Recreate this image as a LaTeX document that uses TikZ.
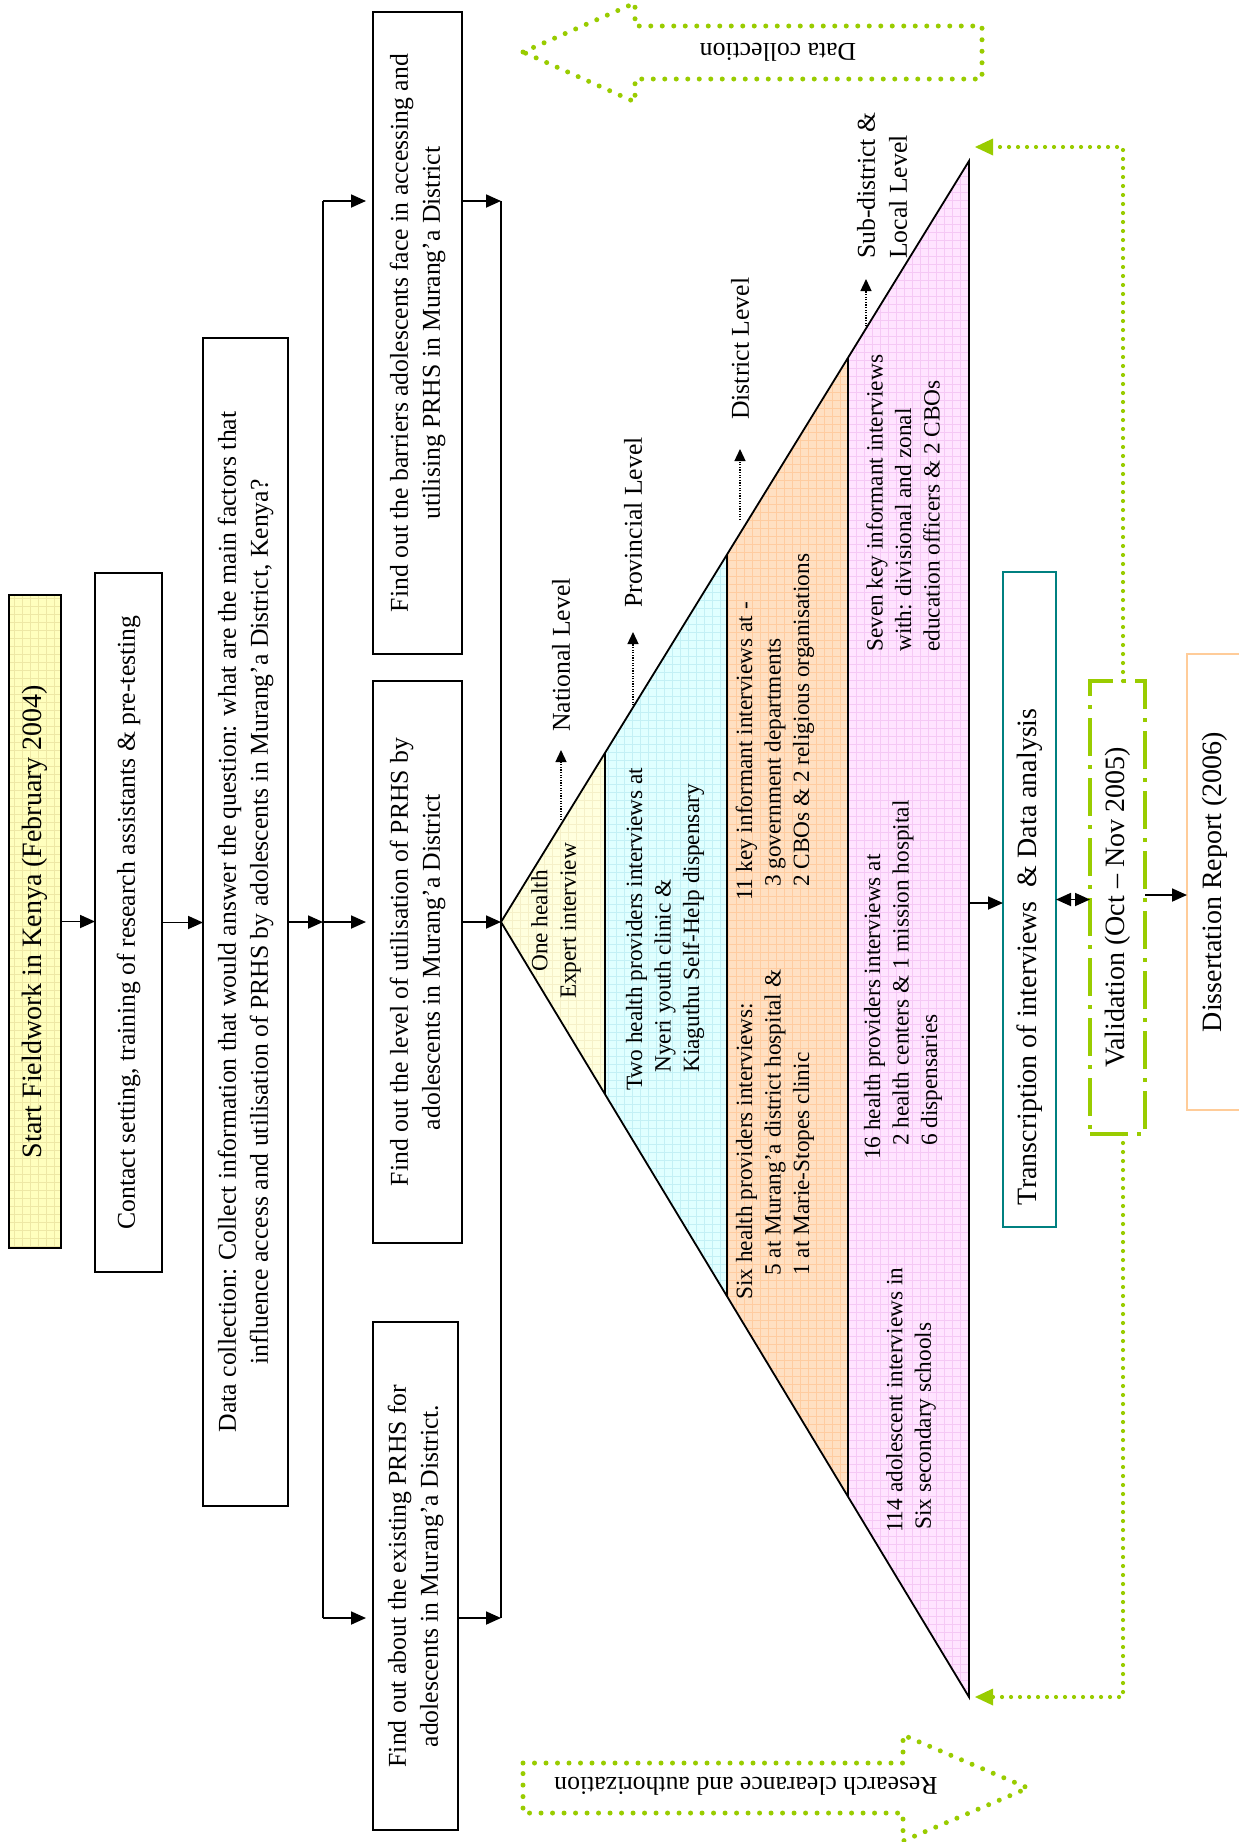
\documentclass[tikz,border=0pt]{standalone}
\usepackage{fontspec}
\setmainfont{Liberation Serif}
\usetikzlibrary{arrows.meta,calc}
\definecolor{gcol}{RGB}{153,204,0}
\definecolor{tealc}{RGB}{0,128,128}
\definecolor{peach}{RGB}{255,204,153}
\definecolor{yelbox}{RGB}{255,255,190}
\definecolor{yelgrid}{RGB}{238,232,165}
\definecolor{yelband}{RGB}{255,255,222}
\definecolor{yelbgrid}{RGB}{245,240,200}
\definecolor{cyanband}{RGB}{224,255,255}
\definecolor{cyangrid}{RGB}{195,240,245}
\definecolor{orband}{RGB}{255,224,194}
\definecolor{orgrid}{RGB}{255,204,160}
\definecolor{pkband}{RGB}{255,228,255}
\definecolor{pkgrid}{RGB}{245,200,245}
\newcommand{\fszA}{\fontsize{28}{33}\selectfont}
\newcommand{\fszB}{\fontsize{25.7}{32}\selectfont}
\newcommand{\fszC}{\fontsize{23.3}{28.5}\selectfont}
\newcommand{\rtxt}[1]{\rotatebox{90}{\begin{tabular}{@{}c@{}}#1\end{tabular}}}
\begin{document}
\begin{tikzpicture}[x=1pt,y=-1pt,
  box/.style={draw=black, line width=1.8pt, inner sep=0pt, outer sep=0pt},
  arr/.style={line width=1.8pt, -{Triangle[length=15pt,width=13pt]}},
  darr/.style={line width=1.8pt, {Triangle[length=15pt,width=13pt]}-{Triangle[length=15pt,width=13pt]}},
  bus/.style={line width=1.8pt},
  tri/.style={rotate=90, inner sep=0pt, font=\fszC},
  lvl/.style={rotate=90, inner sep=0pt, font=\fszB},
  larr/.style={line width=1.3pt, dash pattern=on 1.3pt off 1.3pt, -{Triangle[length=12pt,width=11pt]}},
  gline/.style={draw=gcol, line width=4.2pt, dash pattern=on 0pt off 9pt, line cap=round, -{Triangle[length=18pt,width=17pt,line width=0pt]}},
  bdot/.style={draw=gcol, line width=5pt, dash pattern=on 0pt off 11.5pt, line cap=round},
  gridfill/.style={path picture={\draw[#1, line width=0.6pt, step=8pt] (path picture bounding box.south west) grid (path picture bounding box.north east);}}
]
\useasboundingbox (0,0) rectangle (1239,1842);
\fill[white] (0,0) rectangle (1239,1842);
\clip (0,0) rectangle (1239,1842);

% ---------- pyramid ----------
\coordinate (apex) at (501,922);
\coordinate (TT) at (969,161);
\coordinate (TB) at (969,1697);
\coordinate (p1t) at ($(apex)!0.2222!(TT)$);
\coordinate (p1b) at ($(apex)!0.2222!(TB)$);
\coordinate (p2t) at ($(apex)!0.4829!(TT)$);
\coordinate (p2b) at ($(apex)!0.4829!(TB)$);
\coordinate (p3t) at ($(apex)!0.7415!(TT)$);
\coordinate (p3b) at ($(apex)!0.7415!(TB)$);
\path[fill=yelband, gridfill=yelbgrid] (apex) -- (p1t) -- (p1b) -- cycle;
\path[fill=cyanband, gridfill=cyangrid] (p1t) -- (p2t) -- (p2b) -- (p1b) -- cycle;
\path[fill=orband, gridfill=orgrid] (p2t) -- (p3t) -- (p3b) -- (p2b) -- cycle;
\path[fill=pkband, gridfill=pkgrid] (p3t) -- (TT) -- (TB) -- (p3b) -- cycle;
\draw[line width=1.8pt, line join=miter] (apex) -- (TT) -- (TB) -- cycle;
\draw[line width=1.8pt] (p1t) -- (p1b) (p2t) -- (p2b) (p3t) -- (p3b);

% pyramid texts
\node[tri, align=center] (one) at (556,921) {One health\\Expert interview};
\node[tri, align=left, anchor=west] (two) at (665,1091) {Two health providers interviews at\\\hspace*{18pt}Nyeri youth clinic \&\\\hspace*{18pt}Kiaguthu Self-Help dispensary};
\node[tri, align=left, anchor=west] (six) at (775,1300) {Six health providers interviews:\\\hspace*{24pt}5 at Murang'a district hospital \&\\\hspace*{24pt}1 at Marie-Stopes clinic};
\node[tri, align=left, anchor=west] (eleven) at (775,901) {11 key informant interviews at -\\\hspace*{14pt}3 government departments\\\hspace*{14pt}2 CBOs \& 2 religious organisations};
\node[tri, align=left, anchor=west] (sixteen) at (903,1160) {16 health providers interviews at\\\hspace*{14pt}2 health centers \&~1 mission hospital\\\hspace*{14pt}6 dispensaries};
\node[tri, align=left, anchor=west] (seven) at (903,652) {Seven key informant interviews\\with: divisional and zonal\\education officers \& 2 CBOs};
\node[tri, align=left, anchor=west] (adol) at (911,1533) {114 adolescent interviews in\\\hspace*{3pt}Six secondary schools};

% level labels
\node[lvl, anchor=west] (natl) at (561,732) {National Level};
\coordinate (natlT) at (561,820);
\draw[larr, shorten >=18pt] (natlT) -- (natl.west);
\node[lvl, anchor=west] (prov) at (633,608) {Provincial Level};
\coordinate (provT) at (633,708);
\draw[larr, shorten >=24pt] (provT) -- (prov.west);
\node[lvl, anchor=west] (dist) at (740,420) {District Level};
\coordinate (distT) at (740,520);
\draw[larr, shorten >=29pt] (distT) -- (dist.west);
\node[lvl, anchor=west, align=left] (sub) at (882,259) {Sub-district \&\\Local Level};
\coordinate (subT) at (866,329);
\draw[larr, shorten >=20pt] (subT) -- (sub.west -| subT);

% ---------- left column boxes ----------
\node[box, fill=yelbox, gridfill=yelgrid, minimum width=52pt, minimum height=653pt] (start) at (35,921.5) {\rotatebox{90}{\fszA Start Fieldwork in Kenya (February 2004)}};
\node[box, minimum width=67pt, minimum height=699pt] (contact) at (128.5,922.5) {\rotatebox{90}{\fszB Contact setting, training of research assistants \& pre-testing}};
\node[box, minimum width=85pt, minimum height=1168pt] (datac) at (245.5,922) {\fszB\rtxt{Data collection: Collect information that would answer the question: what are the main factors that\\influence access and utilisation of PRHS by adolescents in Murang'a District, Kenya?}};
\node[box, minimum width=89pt, minimum height=642pt] (barriers) at (417.5,333) {\fszB\rtxt{Find out the barriers adolescents face in accessing and\\utilising PRHS in Murang'a District}};
\node[box, minimum width=89pt, minimum height=562pt] (level) at (417.5,962) {\fszB\rtxt{Find out the level of utilisation of PRHS by\\adolescents in Murang'a District}};
\node[box, minimum width=85pt, minimum height=508pt] (existing) at (415.5,1576) {\fszB\rtxt{Find out about the existing PRHS for\\adolescents in Murang'a District.}};

% ---------- right column boxes ----------
\node[box, draw=tealc, line width=2.5pt, minimum width=53pt, minimum height=655pt] (trans) at (1029.5,899.5) {\rotatebox{90}{\fszA\makebox[611pt][l]{Transcription of interviews \ \& Data analysis}}};
\node[box, draw=gcol, line width=3.5pt, dash pattern=on 38pt off 9pt on 4pt off 9pt, minimum width=55pt, minimum height=453pt] (valid) at (1117.5,907.5) {\rotatebox{90}{\fszA Validation (Oct -- Nov 2005)}};
\node[box, draw=peach, line width=2pt, minimum width=56pt, minimum height=456pt] (diss) at (1215,882) {\rotatebox{90}{\fszA Dissertation Report (2006)}};

% ---------- connectors ----------
\draw[arr] (start.east) -- (start.east -| contact.west);
\draw[arr] (contact.east) -- (contact.east -| datac.west);
\coordinate (LT) at (323,201);
\coordinate (LM) at (323,922);
\coordinate (LB) at (323,1618);
\coordinate (RT) at (501,201);
\coordinate (RB) at (501,1618);
\draw[bus] (LT) -- (LB);
\draw[bus] (RT) -- (RB);
\draw[arr] (datac.east) -- (LM);
\draw[arr, shorten >=7pt] (LT) -- (LT -| barriers.west);
\draw[arr, shorten >=7pt] (LM) -- (LM -| level.west);
\draw[arr, shorten >=7pt] (LB) -- (LB -| existing.west);
\draw[arr] (barriers.east |- RT) -- (RT);
\draw[arr] (level.east |- apex) -- (apex);
\draw[arr] (existing.east |- RB) -- (RB);

\coordinate (baseM) at (969,903);
\draw[arr] (baseM) -- (baseM -| trans.west);
\draw[darr] (trans.east) -- (trans.east -| valid.west);
\draw[arr] ([yshift=12.5pt]valid.east) -- ([yshift=12.5pt]valid.east -| diss.west);

\coordinate (gT) at (975,147);
\coordinate (gB) at (975,1697);
\draw[gline] ([xshift=5.5pt]valid.north) |- (gT);
\draw[gline] ([xshift=5.5pt]valid.south) |- (gB);

% ---------- block arrows ----------
\draw[bdot] (523,52) -- (635,3) -- (635,26) -- (982,26) -- (982,79) -- (635,79) -- (635,102) -- cycle;
\node[rotate=180, font=\fszB, inner sep=0pt] (dcl) at (778,52) {Data collection};
\draw[bdot] (523,1763) -- (903,1763) -- (903,1735) -- (1028,1788) -- (903,1841) -- (903,1813) -- (523,1813) -- cycle;
\node[rotate=180, font=\fszB, inner sep=0pt] (rca) at (746,1786) {Research clearance and authorization};
\end{tikzpicture}
\end{document}
